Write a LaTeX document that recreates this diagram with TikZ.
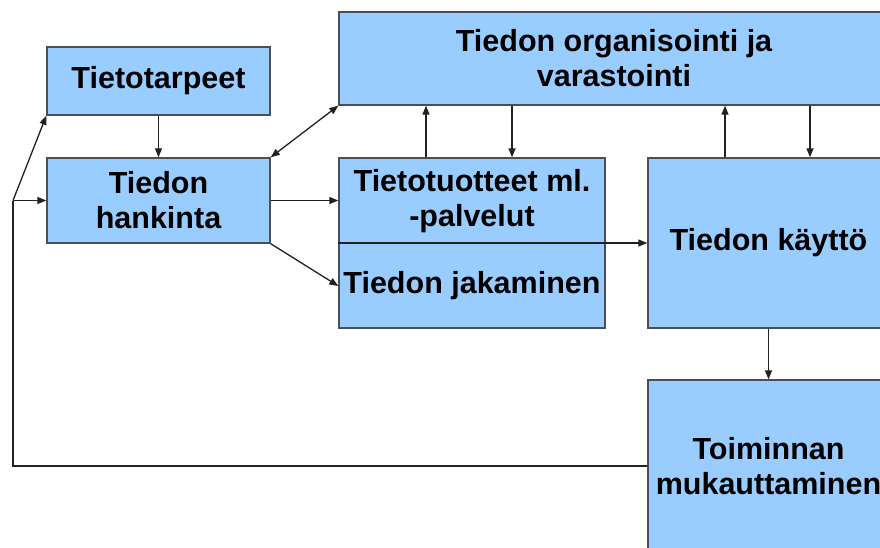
\documentclass[tikz,border=0pt]{standalone}
\usepackage{fontspec}
\setmainfont{Liberation Sans}
\usetikzlibrary{arrows.meta}
\definecolor{boxfill}{HTML}{99CCFF}
\definecolor{boxline}{HTML}{4A4F57}
\definecolor{conn}{HTML}{222222}
\begin{document}
\begin{tikzpicture}[x=1pt,y=-1pt,
  box/.style={draw=boxline,fill=boxfill,line width=1.4pt,rectangle,inner sep=0pt,
    align=center,font=\fontsize{30.5}{35}\selectfont\bfseries},
  lbl/.style={inner sep=0pt,align=center,font=\fontsize{30.5}{35}\selectfont\bfseries},
  conn/.style={draw=conn,line width=1.3pt,-{Triangle[length=9pt,width=7pt]}},
  dconn/.style={draw=conn,line width=1.3pt,{Triangle[length=9pt,width=7pt]}-{Triangle[length=9pt,width=7pt]}}]
\useasboundingbox (0,0) rectangle (880,547);
\fill[white] (0,0) rectangle (880,547);
\clip (0,0) rectangle (880,547);
% boxes
\node[box,minimum width=223pt,minimum height=68pt] (tarp) at (158.5,81) {Tietotarpeet};
\node[box,minimum width=223pt,minimum height=85pt] (hank) at (158.5,200.5) {Tiedon\\hankinta};
\node[box,minimum width=550pt,minimum height=93pt] (org) at (614,58.5) {Tiedon organisointi ja\\varastointi};
\node[box,minimum width=266pt,minimum height=170pt] (mid) at (472,243) {};
\node[lbl] (tuot) at (472,201) {Tietotuotteet ml.\\-palvelut};
\node[lbl] (jak) at (472,286) {Tiedon jakaminen};
\node[box,minimum width=241pt,minimum height=170pt] (kaytto) at (768.5,243) {Tiedon käyttö};
\node[box,minimum width=241pt,minimum height=172pt] (toim) at (768.5,466) {Toiminnan\\mukauttaminen};
% connectors
\draw[conn] (tarp.south) -- (hank.north);
\draw[dconn] (hank.north east) -- (org.south west);
\draw[conn] (hank.east) -- (hank.east -| mid.west);
\draw[conn] (hank.south east) -- (jak.west -| mid.west);
\draw[conn] (mid.west) -- (kaytto.west);
\draw[conn] ([xshift=-46pt]mid.north) -- ([xshift=-46pt]mid.north |- org.south);
\draw[conn] ([xshift=40pt]mid.north |- org.south) -- ([xshift=40pt]mid.north);
\draw[conn] ([xshift=-43.5pt]kaytto.north) -- ([xshift=-43.5pt]kaytto.north |- org.south);
\draw[conn] ([xshift=41.5pt]kaytto.north |- org.south) -- ([xshift=41.5pt]kaytto.north);
\draw[conn] (kaytto.south) -- (toim.north);
\coordinate (fbA) at (13,466);
\coordinate (fbB) at (13,200.5);
\draw[draw=conn,line width=1.3pt] (toim.west) -- (fbA) -- (fbB);
\draw[conn] (fbB) -- (hank.west);
\draw[conn] (fbB) -- (tarp.south west);
\end{tikzpicture}
\end{document}
